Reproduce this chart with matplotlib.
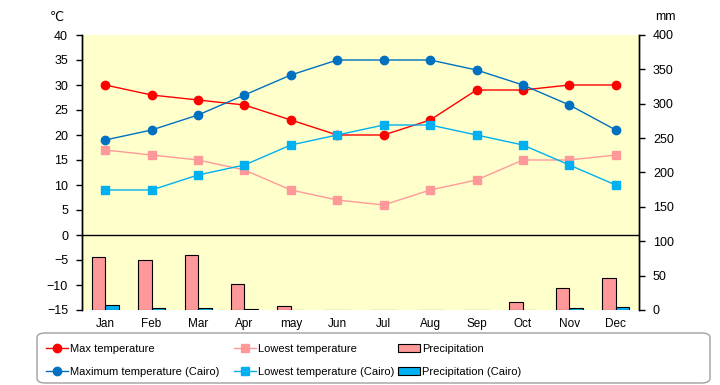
import matplotlib
matplotlib.use("Agg")
import matplotlib.pyplot as plt
from matplotlib.patches import FancyBboxPatch
import numpy as np

plt.rcParams["font.family"] = ["Liberation Sans", "DejaVu Sans"]
plt.rcParams["font.size"] = 8.5

months = ["Jan", "Feb", "Mar", "Apr", "may", "Jun", "Jul", "Aug", "Sep", "Oct", "Nov", "Dec"]
max_temp = [30, 28, 27, 26, 23, 20, 20, 23, 29, 29, 30, 30]
low_temp = [17, 16, 15, 13, 9, 7, 6, 9, 11, 15, 15, 16]
cairo_max = [19, 21, 24, 28, 32, 35, 35, 35, 33, 30, 26, 21]
cairo_low = [9, 9, 12, 14, 18, 20, 22, 22, 20, 18, 14, 10]
precip = [77, 73, 80, 38, 6, 0, 0, 0, 0, 12, 32, 47]
cairo_precip = [7, 3, 3, 1, 0, 0, 0, 0, 0, 0, 3, 5]

fig = plt.figure(figsize=(7.2, 3.85), dpi=100)
ax = fig.add_axes([82 / 720, 75 / 385, 557 / 720, 275 / 385])
ax2 = ax.twinx()

x = np.arange(len(months))
w = 0.29
b1 = ax2.bar(x - w / 2, precip, w, color="#FF9999", edgecolor="black", linewidth=0.8,
             label="Precipitation")
b2 = ax2.bar(x + w / 2, cairo_precip, w, color="#00B0F0", edgecolor="black", linewidth=0.8,
             label="Precipitation (Cairo)")
ax2.set_ylim(0, 400)
ax2.set_yticks(range(0, 401, 50))

ax.axhline(0, color="black", lw=1, zorder=1)
l1, = ax.plot(x, max_temp, color="#FF0000", marker="o", ms=6, lw=1, label="Max temperature")
l3, = ax.plot(x, low_temp, color="#FF9999", marker="s", ms=5.5, lw=1, label="Lowest temperature")
l2, = ax.plot(x, cairo_max, color="#0070C0", marker="o", ms=6, lw=1,
              label="Maximum temperature (Cairo)")
l4, = ax.plot(x, cairo_low, color="#00B0F0", marker="s", ms=5.5, lw=1,
              label="Lowest temperature (Cairo)")
ax.set_zorder(ax2.get_zorder() + 1)
ax.patch.set_visible(False)
ax2.patch.set_visible(True)
ax2.patch.set_facecolor("#FFFFCC")

ax.set_xlim(-0.5, 11.5)
ax.set_ylim(-15, 40)
ax.set_yticks(range(-15, 41, 5))
ax.set_xticks(x)
ax.set_xticklabels(months)
ax.tick_params(axis="x", length=0, pad=6)
ax.tick_params(axis="y", length=4, width=1, pad=6, labelsize=9)
ax2.tick_params(axis="y", length=4, width=1, pad=6, labelsize=9)

for a in (ax, ax2):
    a.spines["top"].set_visible(False)
    a.spines["bottom"].set_visible(False)
    a.spines["left"].set_linewidth(1)
    a.spines["right"].set_linewidth(1)

fig.text(57 / 720, 1 - 17 / 385, "℃", ha="center", va="center", fontsize=9,
         family=["DejaVu Sans"])
fig.text(665 / 720, 1 - 17 / 385, "mm", ha="center", va="center", fontsize=9)

# rounded box around the legend
box = FancyBboxPatch((37 / 720, 2 / 385), 673 / 720, 50 / 385,
                     boxstyle="round,pad=0,rounding_size=0.012",
                     transform=fig.transFigure, facecolor="white",
                     edgecolor="#A0A0A0", linewidth=1)
fig.patches.append(box)

# one legend per column so the columns sit where the reference has them
columns = [(44, [l1, l2]), (232, [l3, l4]), (396, [b1, b2])]
for xpos, hs in columns:
    leg = fig.legend(hs, [h.get_label() for h in hs],
                     loc="upper left", bbox_to_anchor=(xpos / 720, 1 - 342 / 385),
                     frameon=False, fontsize=8,
                     handlelength=2.0, handletextpad=0.15, labelspacing=1.15,
                     borderaxespad=0.0, borderpad=0.2)

fig.savefig("out.png", dpi=100)
